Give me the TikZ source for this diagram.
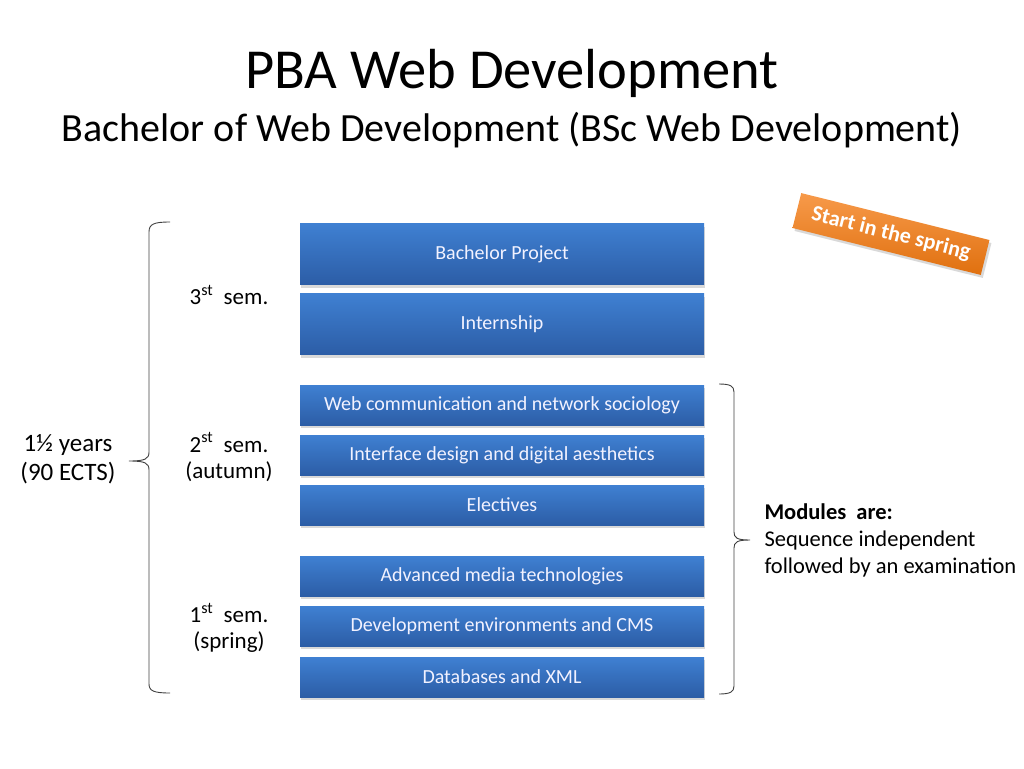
\documentclass[tikz,border=0pt]{standalone}
\usepackage{fontspec}
\setmainfont{Carlito}
\usetikzlibrary{shadows}
\definecolor{boxtop}{HTML}{3F80D2}
\definecolor{boxbot}{HTML}{2C5DA6}
\definecolor{orgtop}{HTML}{F79A4A}
\definecolor{orgbot}{HTML}{E0700F}
\definecolor{bracegray}{HTML}{404040}
\begin{document}
\begin{tikzpicture}[x=1pt, y=-1pt,
    module/.style={rectangle,minimum width=404pt,inner sep=0pt,
        top color=boxtop,bottom color=boxbot,text=white!95!blue,
        font=\fontsize{20}{24}\selectfont,
        drop shadow={shadow xshift=1pt,shadow yshift=-3pt,opacity=0.3}},
    semlabel/.style={align=center,font=\fontsize{23}{26}\selectfont},
    curly/.style={draw=bracegray,line width=0.9pt} ]
    \useasboundingbox (0,0) rectangle (1024,768);
    \node at (512,73) (title) {\fontsize{56.5}{64}\selectfont PBA Web Development};
    \node at (512,130) (subtitle) {\fontsize{40}{46}\selectfont Bachelor of Web Development (BSc Web Development)};
    % 3rd semester
    \node at (502,254) [module,minimum height=61pt] (bp) {Bachelor Project};
    \node at (502,324) [module,minimum height=61pt] (is) {Internship};
    % 2nd semester
    \node at (502,405) [module,minimum height=40pt] (wc) {Web communication and network sociology};
    \node at (502,455) [module,minimum height=40pt] (id) {Interface design and digital aesthetics};
    \node at (502,505) [module,minimum height=40pt] (el) {Electives};
    % 1st semester
    \node at (502,576) [module,minimum height=40pt] (am) {Advanced media technologies};
    \node at (502,626) [module,minimum height=40pt] (de) {Development environments and CMS};
    \node at (502,677) [module,minimum height=40pt] (db) {Databases and XML};
    \node at (229,295) [semlabel] (s3) {3\textsuperscript{st}\ \ sem.};
    \node at (229,457) [semlabel] (s2) {2\textsuperscript{st}\ \ sem.\\(autumn)};
    \node at (229,628) [semlabel] (s1) {1\textsuperscript{st}\ \ sem.\\(spring)};
    \node at (68,459) [semlabel,font=\fontsize{25}{29}\selectfont] (yrs) {1½ years\\(90 ECTS)};
    % braces
    \coordinate (lb1) at (170,222);
    \coordinate (lbtip) at (129,461);
    \coordinate (lb2) at (170,693);
    \draw [curly] (lb1) .. controls (154,222) and (149,224) .. (149,232) -- (149,452)
        .. controls (149,459) and (145,461) .. (lbtip)
        .. controls (145,461) and (149,463) .. (149,470) -- (149,684)
        .. controls (149,691) and (154,693) .. (lb2);
    \coordinate (rb1) at (719,384);
    \coordinate (rbtip) at (750,540);
    \coordinate (rb2) at (719,694);
    \draw [curly] (rb1) .. controls (730,384) and (734,386) .. (734,392) -- (734,532)
        .. controls (734,538) and (737,540) .. (rbtip)
        .. controls (737,540) and (734,542) .. (734,548) -- (734,686)
        .. controls (734,692) and (730,694) .. (rb2);
    \node at (761,540) [anchor=west,align=left,font=\fontsize{22.5}{27}\selectfont] (mods)
        {\textbf{Modules\ \ are:}\\Sequence independent\\followed by an examination};
    \node at (891,234) [rotate=-14,minimum width=194pt,minimum height=36pt,inner sep=0pt,
        top color=orgtop,bottom color=orgbot,text=white,
        font=\bfseries\fontsize{22}{25}\selectfont,
        drop shadow={shadow xshift=2pt,shadow yshift=-3pt,opacity=0.3}] (spring) {Start in the spring};
\end{tikzpicture}
\end{document}
